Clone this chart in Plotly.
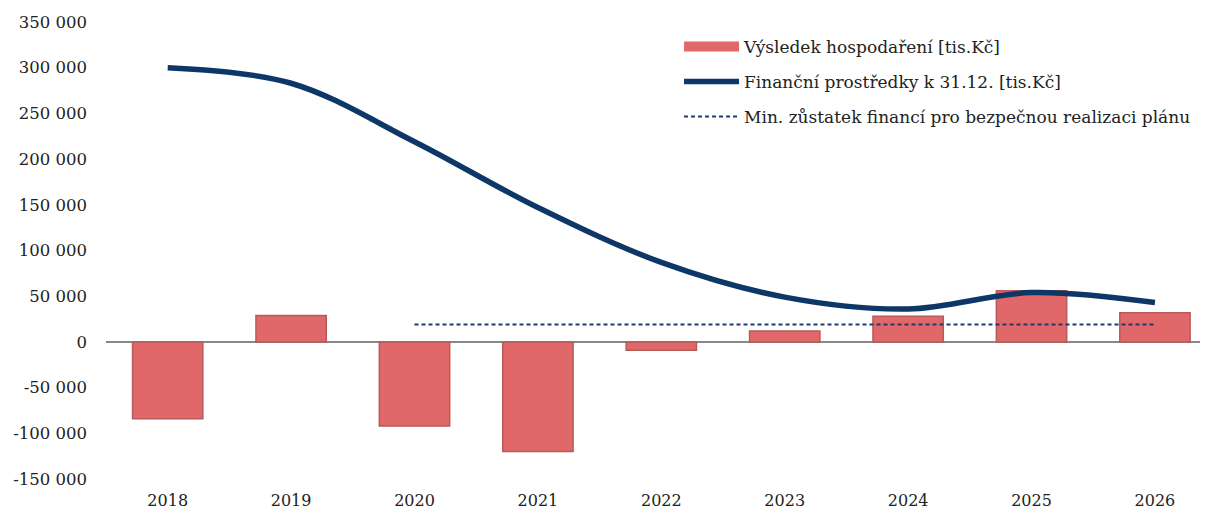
import plotly.graph_objects as go

years = ["2018", "2019", "2020", "2021", "2022", "2023", "2024", "2025", "2026"]
vysledek = [-84000, 29000, -92000, -120000, -9000, 12000, 28000, 56000, 32000]
financni = [300000, 283000, 219000, 147000, 87000, 49000, 36000, 54000, 43000]
min_years = ["2020", "2021", "2022", "2023", "2024", "2025", "2026"]
min_zustatek = [19000, 19000, 19000, 19000, 19000, 19000, 19000]
y_ticks = [-150000, -100000, -50000, 0, 50000, 100000, 150000, 200000, 250000, 300000, 350000]
y_tick_text = ["-150 000", "-100 000", "-50 000", "0", "50 000", "100 000", "150 000",
               "200 000", "250 000", "300 000", "350 000"]

FONT = "DejaVu Serif"
BAR_COLOR = "#E06868"

fig = go.Figure()
fig.add_trace(go.Bar(
    x=years, y=vysledek, name="Výsledek hospodaření [tis.Kč]",
    marker=dict(color=BAR_COLOR, line=dict(color="#B85A5A", width=1.5)),
    showlegend=False,
))
# legend entry for the bars (wide rectangle symbol as in the reference)
fig.add_trace(go.Scatter(
    x=[None], y=[None], name="Výsledek hospodaření [tis.Kč]",
    mode="lines", line=dict(color=BAR_COLOR, width=10),
    legendgroup="a", hoverinfo="skip",
))
fig.add_trace(go.Scatter(
    x=years, y=financni, name="Finanční prostředky k 31.12. [tis.Kč]",
    mode="lines", line=dict(color="#0D3766", width=5.5, shape="spline", smoothing=1.0),
    legendgroup="b",
))
fig.add_trace(go.Scatter(
    x=min_years, y=min_zustatek, name="Min. zůstatek financí pro bezpečnou realizaci plánu",
    mode="lines", line=dict(color="#1F3A6E", width=2, dash="4px,3px"),
    legendgroup="c",
))

fig.update_layout(
    width=1200, height=504,
    margin=dict(l=98, r=0, t=14, b=33),
    paper_bgcolor="white", plot_bgcolor="white",
    font=dict(family=FONT, size=16, color="#222222"),
    bargap=0.43,
    showlegend=True,
    legend=dict(
        x=0.52, y=0.985, xanchor="left", yanchor="top",
        bgcolor="rgba(0,0,0,0)", traceorder="grouped", tracegroupgap=10,
        font=dict(family=FONT, size=17, color="#222222"),
        itemwidth=55,
    ),
    xaxis=dict(
        type="category", range=[-0.5, 8.43], showgrid=False, showline=False,
        zeroline=False, ticks="", ticklabelstandoff=10,
        tickfont=dict(family=FONT, size=16),
    ),
    yaxis=dict(
        range=[-150000, 350000], tickvals=y_ticks, ticktext=y_tick_text,
        showgrid=False, showline=False, zeroline=True, zerolinecolor="#888888",
        zerolinewidth=1.5, ticks="", ticklabelstandoff=18,
        tickfont=dict(family=FONT, size=16.5),
    ),
)

fig.write_html("out.html")
